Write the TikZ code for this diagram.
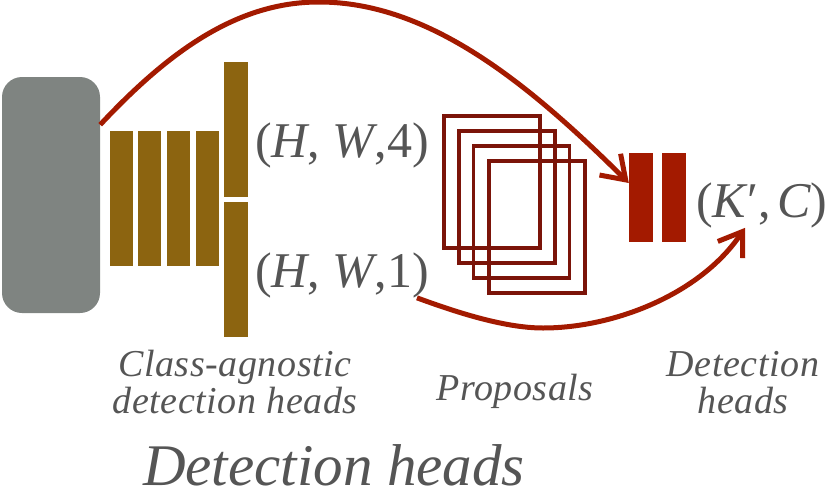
\documentclass[tikz,border=0pt]{standalone}
\usepackage{fontspec}
\setmainfont{Liberation Serif}
\newfontfamily\labfont[LetterSpace=1.5]{Liberation Serif}
\usetikzlibrary{arrows.meta,calc}
\definecolor{encgray}{HTML}{7F8481}
\definecolor{headbrown}{HTML}{8C6410}
\definecolor{arrowred}{HTML}{A31A00}
\definecolor{propred}{HTML}{7B1409}
\definecolor{txtgray}{HTML}{555555}
\tikzset{
  encbox/.style={fill=encgray,draw=none,rounded corners=20pt,minimum width=98pt,minimum height=236pt,inner sep=0pt},
  headbar/.style={fill=headbrown,draw=none,minimum width=23pt,minimum height=135pt,inner sep=0pt},
  detbar/.style={fill=arrowred,draw=none,minimum width=24pt,minimum height=89pt,inner sep=0pt},
  propbox/.style={draw=propred,line width=3.2pt,fill=none,minimum width=96pt,minimum height=132pt,inner sep=0pt},
  shapelab/.style={text=txtgray,inner sep=0pt,font=\fontsize{50}{54}\selectfont},
  caplab/.style={text=txtgray,inner sep=0pt,align=center,font=\labfont\itshape\fontsize{38}{36.5}\selectfont},
  flow/.style={draw=arrowred,line width=5pt,-{Straight Barb[length=22pt,width=30pt]}}
}
\begin{document}
\begin{tikzpicture}[x=1pt,y=-1pt]
\useasboundingbox (0,0) rectangle (830,498);
% encoder
\node[encbox] (enc) at (51,195) {};
% class-agnostic heads
\node[headbar] (h1) at (121.5,198.5) {};
\node[headbar] (h2) at (149.5,198.5) {};
\node[headbar] (h3) at (178.5,198.5) {};
\node[headbar] (h4) at (207,198.5) {};
\node[headbar,minimum width=24pt] (ht) at (236,129.5) {};
\node[headbar,minimum width=24pt] (hb) at (236,269.5) {};
% shape labels
\node[shapelab,anchor=base west] (hw4) at (255,157) {(\textit{H}, \textit{W},4)};
\node[shapelab,anchor=base west] (hw1) at (255,287) {(\textit{H}, \textit{W},1)};
% proposals
\node[propbox] (p1) at (492,182) {};
\node[propbox] (p2) at (507,197) {};
\node[propbox] (p3) at (521.5,212) {};
\node[propbox] (p4) at (537,227) {};
% detection heads
\node[detbar] (d1) at (641,197.5) {};
\node[detbar] (d2) at (673.5,197.5) {};
\node[shapelab,anchor=base west] (kc) at (696,217) {(\textit{K}\kern-1pt′,\kern7pt\textit{C}\kern-1pt)};
% captions
\node[caplab,anchor=base] (cap1) at (235,413) {Class-agnostic\\detection heads};
\node[caplab,anchor=base] (cap2) at (515,400) {Proposals};
\node[caplab,anchor=base] (cap3) at (743,413) {Detection\\heads};
\node[text=txtgray,inner sep=0pt,anchor=base,font=\itshape\fontsize{59}{60}\selectfont] (title) at (334,485) {Detection heads};
% arrows
\coordinate (peak) at (319,2);
\draw[flow] (enc.55) .. controls (171,49) and (239,2) .. (peak)
  .. controls (429,2) and (528,83) .. ($(d1.west)+(0,-14.5)$);
\coordinate (dip) at (543,328);
\draw[flow] ($(hw1.south east)+(-12,0)$) .. controls (453,311) and (503,328) .. (dip)
  .. controls (613,328) and (700,295) .. ($(kc.south west)+(49,0)$);
\end{tikzpicture}
\end{document}
